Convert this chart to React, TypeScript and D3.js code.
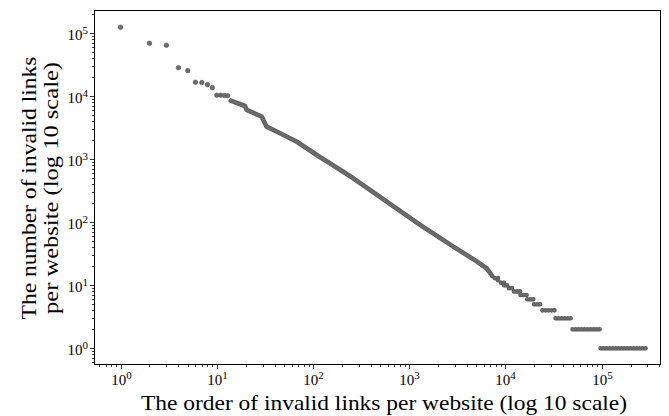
import React from "react";
import * as d3 from "d3";

// head of the distribution: points that are still visible one by one
const headRanks = [1, 2, 3, 4, 5, 6, 7, 8, 9, 10, 11, 12, 13];
const headCounts = [124500, 69500, 64500, 28400, 25500, 16700, 16500, 15300, 13700, 10400, 10400, 10300, 10200];

// dense middle part (overlapping markers)
const curveRanks = [14, 19.7, 20.5, 29.4, 30.5, 33, 45.5, 68, 119, 150, 263, 585, 1300, 2880, 5040, 6400, 7000];
const curveCounts = [8500, 7000, 6070, 4740, 4200, 3290, 2590, 1900, 1076, 864, 499, 212, 91, 41, 24, 18.5, 15.5];

// tail: integer counts that form flat runs of ranks
const stepCounts = [14, 13, 12, 11, 10, 9, 8, 7, 6, 5, 4, 3, 2, 1];
const stepStarts = [7300, 7800, 8400, 9000, 9700, 10900, 12300, 14400, 16900, 19900, 24300, 33300, 50000, 97700];
const lastRank = 297000;

const xDomain = [0.53, 415000];
const yDomain = [0.543, 234000];

const W = 669;
const H = 416;
const L = 94;
const T = 10;
const R = 661;
const B = 365;

const FONT = "'Liberation Serif', 'DejaVu Serif', serif";
const DOT = "#6c6c6c";
const DOT_EDGE = "#5a5a5a";

function App() {
  const x = d3.scaleLog().domain(xDomain).range([L, R]);
  const y = d3.scaleLog().domain(yDomain).range([B, T]);

  const isMajor = (t: number) => Math.abs(Math.log10(t) - Math.round(Math.log10(t))) < 1e-9;
  const xTicks = x.ticks().filter((t) => t >= xDomain[0] && t <= xDomain[1]);
  const yTicks = y.ticks().filter((t) => t >= yDomain[0] && t <= yDomain[1]);

  const curvePts: [number, number][] = curveRanks.map((r, i) => [r, curveCounts[i]]);
  const line = d3
    .line<[number, number]>()
    .x((d) => x(d[0]))
    .y((d) => y(d[1]));

  // flat runs: each count goes from its start rank up to the next one
  const steps = stepCounts.map((c, i) => ({
    c,
    from: stepStarts[i],
    to: i < stepStarts.length - 1 ? stepStarts[i + 1] : lastRank,
  }));

  return (
    <svg width={W} height={H} style={{ position: "absolute", left: 0, top: 0 }}>
      <rect x={0} y={0} width={W} height={H} fill="white" />

      {/* dense curve */}
      <path d={line(curvePts) || ""} fill="none" stroke={DOT_EDGE} strokeWidth={4.6} strokeLinecap="round" strokeLinejoin="round" />
      <path d={line(curvePts) || ""} fill="none" stroke={DOT} strokeWidth={3.2} strokeLinecap="round" strokeLinejoin="round" strokeDasharray="0 2.4" />

      {/* tail runs drawn as rows of overlapping markers */}
      {steps.map((s) => (
        <g key={s.c}>
          <line x1={x(s.from)} x2={x(s.to)} y1={y(s.c)} y2={y(s.c)} stroke={DOT_EDGE} strokeWidth={4.6} strokeLinecap="round" strokeDasharray="0 3" />
          <line x1={x(s.from)} x2={x(s.to)} y1={y(s.c)} y2={y(s.c)} stroke={DOT} strokeWidth={3.0} strokeLinecap="round" strokeDasharray="0 3" />
        </g>
      ))}

      {/* head points */}
      {headRanks.map((r, i) => (
        <circle key={r} cx={x(r)} cy={y(headCounts[i])} r={2.3} fill={DOT} stroke={DOT_EDGE} strokeWidth={0.6} />
      ))}

      {/* frame */}
      <rect x={L + 0.5} y={T + 0.5} width={R - L - 1} height={B - T - 1} fill="none" stroke="black" strokeWidth={1} />

      {/* x ticks */}
      {xTicks.map((t, i) => {
        const px = Math.round(x(t)) + 0.5;
        const major = isMajor(t);
        return (
          <g key={"x" + i}>
            <line x1={px} x2={px} y1={B} y2={B + (major ? 4 : 2)} stroke="black" strokeWidth={0.8} />
            {major && (
              <text x={px} y={385} textAnchor="middle" fontFamily={FONT} fontSize={15}>
                10
                <tspan dy={-6} fontSize={11}>
                  {Math.round(Math.log10(t))}
                </tspan>
              </text>
            )}
          </g>
        );
      })}

      {/* y ticks */}
      {yTicks.map((t, i) => {
        const py = Math.round(y(t)) + 0.5;
        const major = isMajor(t);
        return (
          <g key={"y" + i}>
            <line x1={L - (major ? 4 : 2)} x2={L} y1={py} y2={py} stroke="black" strokeWidth={0.8} />
            {major && (
              <text x={88} y={py + 6} textAnchor="end" fontFamily={FONT} fontSize={15}>
                10
                <tspan dy={-6} fontSize={11}>
                  {Math.round(Math.log10(t))}
                </tspan>
              </text>
            )}
          </g>
        );
      })}

      {/* axis titles */}
      <text x={384} y={410} textAnchor="middle" fontFamily={FONT} fontSize={21.5} textLength={486} lengthAdjust="spacingAndGlyphs">
        The order of invalid links per website (log 10 scale)
      </text>
      <g transform={`translate(0, 188) rotate(-90)`}>
        <text x={0} y={36} textAnchor="middle" fontFamily={FONT} fontSize={21.5} textLength={263} lengthAdjust="spacingAndGlyphs">
          The number of invalid links
        </text>
        <text x={0} y={58} textAnchor="middle" fontFamily={FONT} fontSize={21.5} textLength={252} lengthAdjust="spacingAndGlyphs">
          per website (log 10 scale)
        </text>
      </g>
    </svg>
  );
}

export default App;
